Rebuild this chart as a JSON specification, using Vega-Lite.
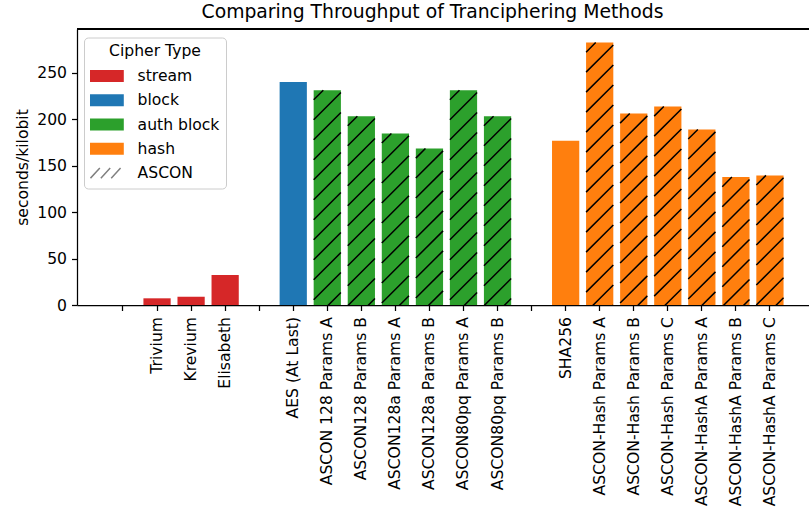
{
  "$schema": "https://vega.github.io/schema/vega-lite/v6.json",
  "width": 732,
  "height": 276,
  "autosize": {"type": "none"},
  "padding": {"left": 77, "top": 29, "right": 0, "bottom": 215},
  "title": {
    "text": "Comparing Throughput of Tranciphering Methods",
    "anchor": "middle",
    "dx": -10.5,
    "fontSize": 18.8,
    "font": "DejaVu Sans",
    "fontWeight": "normal",
    "color": "black",
    "offset": 6.5
  },
  "config": {
    "view": {"stroke": null},
    "font": "DejaVu Sans",
    "axis": {
      "domainColor": "black",
      "domainWidth": 1.25,
      "tickColor": "black",
      "tickWidth": 1.25,
      "tickSize": 5.5,
      "labelColor": "black",
      "labelFont": "DejaVu Sans",
      "labelFontSize": 15.6,
      "labelLimit": 400,
      "titleFont": "DejaVu Sans",
      "titleFontSize": 15.6,
      "titleFontWeight": "normal",
      "titleColor": "black",
      "grid": false
    },
    "legend": {
      "labelFont": "DejaVu Sans",
      "titleFont": "DejaVu Sans"
    }
  },
  "data": {
    "values": [
      {"name": "Trivium", "value": 7.2, "type": "stream", "ascon": false},
      {"name": "Krevium", "value": 8.9, "type": "stream", "ascon": false},
      {"name": "Elisabeth", "value": 32.3, "type": "stream", "ascon": false},
      {"name": "AES (At Last)", "value": 240.3, "type": "block", "ascon": false},
      {"name": "ASCON 128 Params A", "value": 231.4, "type": "auth block", "ascon": true},
      {"name": "ASCON128 Params B", "value": 203.4, "type": "auth block", "ascon": true},
      {"name": "ASCON128a Params A", "value": 184.8, "type": "auth block", "ascon": true},
      {"name": "ASCON128a Params B", "value": 168.6, "type": "auth block", "ascon": true},
      {"name": "ASCON80pq Params A", "value": 231.4, "type": "auth block", "ascon": true},
      {"name": "ASCON80pq Params B", "value": 203.4, "type": "auth block", "ascon": true},
      {"name": "SHA256", "value": 176.8, "type": "hash", "ascon": false},
      {"name": "ASCON-Hash Params A", "value": 282.7, "type": "hash", "ascon": true},
      {"name": "ASCON-Hash Params B", "value": 206.3, "type": "hash", "ascon": true},
      {"name": "ASCON-Hash Params C", "value": 213.8, "type": "hash", "ascon": true},
      {"name": "ASCON-HashA Params A", "value": 189.1, "type": "hash", "ascon": true},
      {"name": "ASCON-HashA Params B", "value": 137.8, "type": "hash", "ascon": true},
      {"name": "ASCON-HashA Params C", "value": 139.6, "type": "hash", "ascon": true}
    ]
  },
  "layer": [
    {
      "mark": {"type": "bar"},
      "encoding": {
        "x": {
          "field": "name",
          "type": "nominal",
          "sort": null,
          "scale": {
            "domain": [" ", "Trivium", "Krevium", "Elisabeth", "  ", "AES (At Last)", "ASCON 128 Params A", "ASCON128 Params B", "ASCON128a Params A", "ASCON128a Params B", "ASCON80pq Params A", "ASCON80pq Params B", "   ", "SHA256", "ASCON-Hash Params A", "ASCON-Hash Params B", "ASCON-Hash Params C", "ASCON-HashA Params A", "ASCON-HashA Params B", "ASCON-HashA Params C"],
            "paddingInner": 0.2,
            "paddingOuter": 0.849,
            "align": 0.56
          },
          "axis": {
            "title": null,
            "labelAngle": 270,
            "labelPadding": 6
          }
        },
        "y": {
          "field": "value",
          "type": "quantitative",
          "scale": {"domain": [0, 297.3], "nice": false},
          "axis": {
            "title": "seconds/kilobit",
            "values": [0, 50, 100, 150, 200, 250],
            "labelPadding": 5,
            "titlePadding": 6
          }
        },
        "color": {
          "field": "type",
          "type": "nominal",
          "scale": {
            "domain": ["stream", "block", "auth block", "hash", "ASCON"],
            "range": ["#d62728", "#1f77b4", "#2ca02c", "#ff7f0e", "#808080"]
          },
          "legend": {
            "title": "Cipher Type",
            "orient": "none",
            "legendX": 7,
            "legendY": 8.5,
            "titleAnchor": "middle",
            "titleFontSize": 15.6,
            "titleFontWeight": "normal",
            "titleColor": "black",
            "titlePadding": 9,
            "labelFontSize": 15.6,
            "labelColor": "black",
            "labelOffset": 23,
            "symbolSize": 1156,
            "symbolType": "M-1,-0.353H1V0.353H-1Z",
            "symbolStrokeWidth": 0,
            "symbolOffset": 9,
            "clipHeight": 16,
            "rowPadding": 7.25,
            "padding": 6,
            "fillColor": "rgba(255,255,255,0.8)",
            "strokeColor": "#cccccc",
            "cornerRadius": 4,
            "encode": {
              "symbols": {
                "update": {
                  "shape": {"signal": "datum.value === 'ASCON' ? 'M-0.96,0.3L-0.41,-0.3M-0.35,0.3L0.2,-0.3M0.26,0.3L0.81,-0.3' : 'M-1,-0.353H1V0.353H-1Z'"},
                  "fill": {"signal": "datum.value === 'ASCON' ? 'transparent' : scale('color', datum.value)"},
                  "stroke": {"signal": "datum.value === 'ASCON' ? '#808080' : 'transparent'"},
                  "strokeWidth": {"signal": "datum.value === 'ASCON' ? 1.5 : 0"}
                }
              }
            }
          }
        }
      }
    },
    {
      "transform": [{"filter": "datum.ascon"}],
      "mark": {
        "type": "point",
        "shape": "M-13.62,9.62L-4,0M-13.62,29.6L13.62,2.4M-13.62,49.6L13.62,22.4M-13.62,69.6L13.62,42.4M-13.62,89.6L13.62,62.4M-13.62,109.6L13.62,82.4M-13.62,129.6L13.62,102.4M-13.62,149.6L13.62,122.4M-13.62,169.6L13.62,142.4M-13.62,189.6L13.62,162.4M-13.62,209.6L13.62,182.4M-13.62,229.6L13.62,202.4M-13.62,249.6L13.62,222.4M-13.62,269.6L13.62,242.4M-13.62,289.6L13.62,262.4",
        "size": 4,
        "filled": false,
        "stroke": "black",
        "strokeWidth": 1.5,
        "opacity": 1,
        "clip": true
      },
      "encoding": {
        "x": {"field": "name", "type": "nominal", "sort": null},
        "y": {"field": "value", "type": "quantitative"}
      }
    },
    {
      "mark": {"type": "rule", "color": "black", "strokeWidth": 1.25},
      "encoding": {"y": {"datum": 297.3}}
    }
  ]
}
